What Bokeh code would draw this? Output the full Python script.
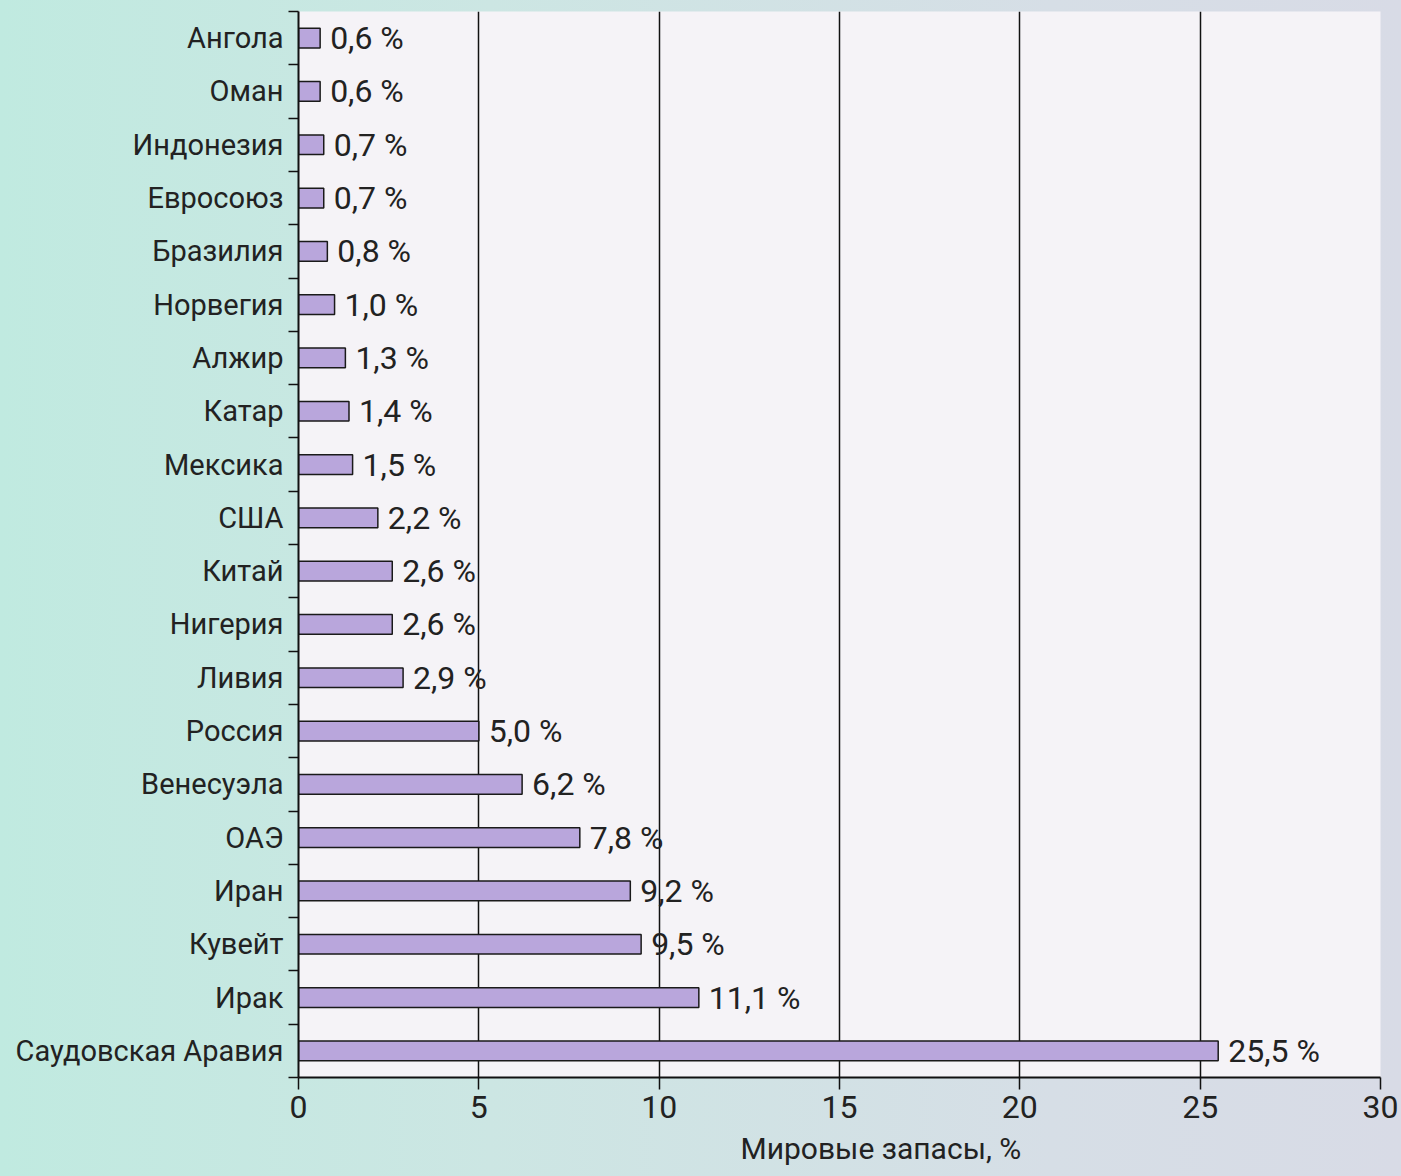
from bokeh.plotting import figure
from bokeh.models import FixedTicker, ColumnDataSource, Range1d, Title
from bokeh.core.properties import value
from bokeh.embed import file_html
from bokeh.resources import INLINE

countries = ["Ангола", "Оман", "Индонезия", "Евросоюз", "Бразилия", "Норвегия", "Алжир",
             "Катар", "Мексика", "США", "Китай", "Нигерия", "Ливия", "Россия", "Венесуэла",
             "ОАЭ", "Иран", "Кувейт", "Ирак", "Саудовская Аравия"]
shares = [0.6, 0.6, 0.7, 0.7, 0.8, 1.0, 1.3, 1.4, 1.5, 2.2, 2.6, 2.6, 2.9, 5.0, 6.2,
          7.8, 9.2, 9.5, 11.1, 25.5]
x_ticks = [0, 5, 10, 15, 20, 25, 30]
x_title = "Мировые запасы, %"

n = len(countries)
pos = [n - 1 - i + 0.5 for i in range(n)]
labels = [f"{v:.1f}".replace(".", ",") + " %" for v in shares]

src = ColumnDataSource(dict(y=pos, v=shares, lab=labels))

FONT = "Roboto"

p = figure(width=1401, height=1176, output_backend="svg", toolbar_location=None,
           x_range=Range1d(0, 30), y_range=Range1d(0, n),
           min_border_left=298, min_border_right=21, min_border_top=11, min_border_bottom=99)
p.styles = {"background": "linear-gradient(to right, #c0eae0 0%, #cce6e3 35%, #d6dee6 75%, #d8dbe6 100%)"}
p.border_fill_alpha = 0
p.background_fill_color = "#f5f3f7"
p.outline_line_color = None

p.hbar(y="y", right="v", left=0, height=0.37, source=src,
       fill_color="#b9a6dc", line_color="#1a1a1a", line_width=1.5)

p.text(x="v", y="y", text="lab", source=src, x_offset=10, text_baseline="middle",
       text_align="left", text_font=value(FONT), text_font_size="32px", text_color="#222222")

p.ygrid.grid_line_color = None
p.xgrid.ticker = FixedTicker(ticks=x_ticks)
p.xgrid.grid_line_color = "#111111"
p.xgrid.grid_line_width = 1.5

p.xaxis.ticker = FixedTicker(ticks=x_ticks)
p.xaxis.axis_line_color = "#111111"
p.xaxis.axis_line_width = 2
p.xaxis.major_tick_line_color = "#111111"
p.xaxis.major_tick_line_width = 1.5
p.xaxis.major_tick_out = 12
p.xaxis.major_tick_in = 0
p.xaxis.minor_tick_line_color = None
p.xaxis.major_label_text_font = FONT
p.xaxis.major_label_text_font_size = "32px"
p.xaxis.major_label_text_color = "#222222"
p.xaxis.major_label_standoff = 6

p.add_layout(Title(text=x_title, align="left", offset=442, text_font=FONT,
                   text_font_size="30px", text_font_style="normal", text_color="#222222",
                   standoff=16), "below")

p.yaxis.ticker = FixedTicker(ticks=pos, minor_ticks=[i for i in range(n + 1)])
p.yaxis.major_label_overrides = {pp: c for pp, c in zip(pos, countries)}
p.yaxis.major_tick_out = 0
p.yaxis.major_tick_in = 0
p.yaxis.minor_tick_out = 10
p.yaxis.minor_tick_in = 0
p.yaxis.minor_tick_line_color = "#111111"
p.yaxis.minor_tick_line_width = 1.5
p.yaxis.axis_line_color = "#111111"
p.yaxis.axis_line_width = 2
p.yaxis.major_label_text_font = FONT
p.yaxis.major_label_text_font_size = "29px"
p.yaxis.major_label_text_color = "#222222"
p.yaxis.major_label_standoff = 5

open("out.html", "w").write(file_html(p, INLINE))
